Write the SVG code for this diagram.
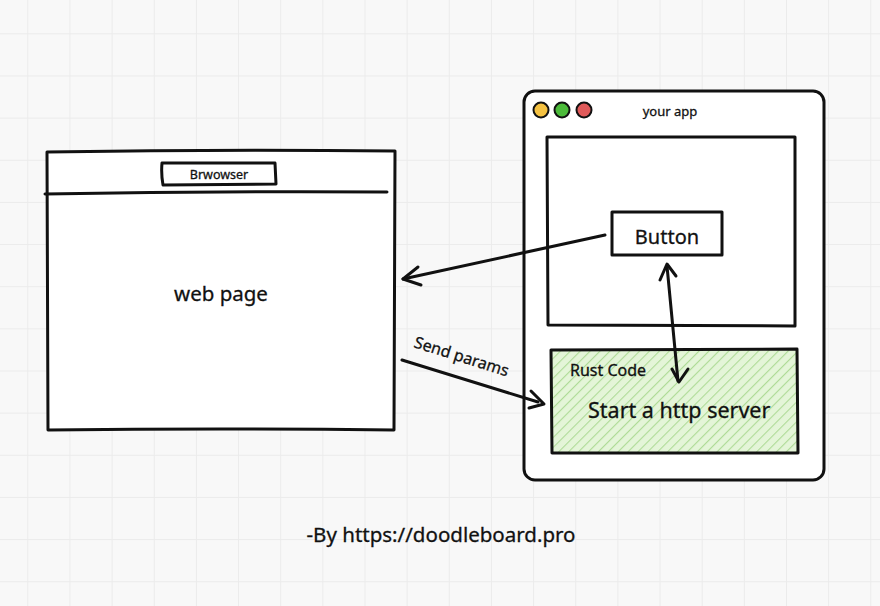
<svg xmlns="http://www.w3.org/2000/svg" width="880" height="606" viewBox="0 0 880 606">
<defs>
  <pattern id="grid" x="27.3" y="33.3" width="42.15" height="42.15" patternUnits="userSpaceOnUse">
    <path d="M0 0 V42.15 M0 0 H42.15" fill="none" stroke="#ebebeb" stroke-width="2"/>
  </pattern>
  <pattern id="hatch" width="7" height="7" patternUnits="userSpaceOnUse" patternTransform="rotate(45)">
    <rect width="7" height="7" fill="#e4f5d8"/>
    <line x1="0" y1="0" x2="0" y2="7" stroke="#aedb96" stroke-width="2.2"/>
  </pattern>
</defs>
<style>
  .ink{fill:none;stroke:#111;stroke-width:3;stroke-linejoin:round;stroke-linecap:round}
  .box{fill:#fff;stroke:#111;stroke-width:3;stroke-linejoin:round;stroke-linecap:round}
  .t{font-family:"Noto Sans","DejaVu Sans",sans-serif;fill:#111;stroke:#111;stroke-width:0.3}
</style>
<rect width="880" height="606" fill="#f8f8f8"/>
<rect width="880" height="606" fill="url(#grid)"/>

<g id="browser">
  <path class="box" d="M47 152 Q220 149 395 151 L394 430 Q220 428 48 430 Z"/>
  <path class="ink" d="M45 194 Q215 191 387 192"/>
  <path class="box" stroke-width="2" d="M162 163 L275 163 L276 184 L163 185 Q161 174 162 163 Z"/>
  <text class="t" x="219" y="179" font-size="12.5" text-anchor="middle">Brwowser</text>
  <text class="t" x="221" y="301" font-size="20.5" text-anchor="middle">web page</text>
</g>

<g id="app">
  <rect class="box" x="524" y="91" width="300" height="389" rx="11"/>
  <circle cx="541" cy="110" r="7.5" fill="#f5c242" stroke="#111" stroke-width="2"/>
  <circle cx="562" cy="110" r="7.5" fill="#4cbb3a" stroke="#111" stroke-width="2"/>
  <circle cx="584" cy="110" r="7.5" fill="#e05a5a" stroke="#111" stroke-width="2"/>
  <text class="t" x="670" y="116" font-size="13" text-anchor="middle">your app</text>
</g>

<g id="ui-panel">
  <path class="box" d="M547 137 L795 137 L795 326 L548 325 Z"/>
</g>

<g id="button">
  <rect class="box" x="612" y="212" width="110" height="43"/>
  <text class="t" x="667" y="244" font-size="20" text-anchor="middle">Button</text>
</g>

<g id="rust-code">
  <path d="M551 350 L797 349 L798 453 L552 453 Z" fill="url(#hatch)" stroke="#111" stroke-width="3" stroke-linejoin="round"/>
  <text class="t" x="570" y="376" font-size="16">Rust Code</text>
  <text class="t" x="588" y="418" font-size="21.5">Start a http server</text>
</g>

<g id="connectors">
  <path class="ink" d="M605 235 L403 279"/>
  <path class="ink" d="M418 267 L403 279 L421 285"/>
  <path class="ink" d="M667 266 L678 381"/>
  <path class="ink" d="M660 280 L667 264 L676 276"/>
  <path class="ink" d="M672 369 L679 382 L688 369"/>
  <path class="ink" d="M402 360 L538 402"/>
  <path class="ink" d="M531 391 L544 404 L529 408"/>
  <text class="t" x="413" y="347" font-size="16" transform="rotate(17.5 413 347)">Send params</text>
</g>

<g id="footer">
  <text class="t" x="441" y="542" font-size="20.5" text-anchor="middle">-By https://doodleboard.pro</text>
</g>
</svg>
